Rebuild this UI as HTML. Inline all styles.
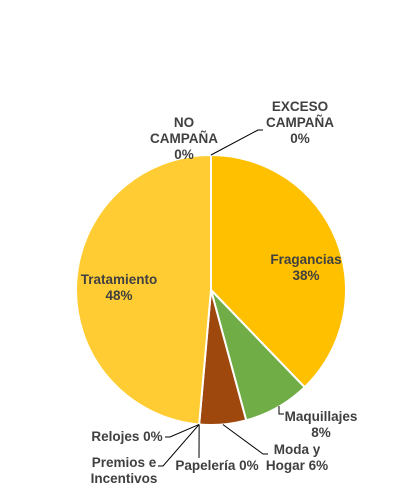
<!DOCTYPE html>
<html><head><meta charset="utf-8"><style>
html,body{margin:0;padding:0;background:#fff;width:410px;height:490px;overflow:hidden}
text{font-family:"Liberation Sans",Arial,sans-serif;font-weight:bold;font-size:13.5px;fill:#404040}
</style></head><body>
<svg id="chart" width="410" height="490" xmlns="http://www.w3.org/2000/svg">
<g id="slices"></g><g id="leaders"></g><g id="labels"></g>
</svg>
<script>
const categories=["Fragancias","Maquillajes","Moda y Hogar","Papelería","Premios e Incentivos","Relojes","Tratamiento","NO CAMPAÑA","EXCESO CAMPAÑA"];
const values=[37.8,8.0,5.6,0,0,0,48.6,0,0];
const printed=["38%","8%","6%","0%","0%","0%","48%","0%","0%"];
const colors=["#FFC000","#70AD47","#9E480E","#636363","#997300","#264478","#FFCD33","#43682B","#F1975A"];
const cx=211,cy=290,r=135;
const total=values.reduce((a,b)=>a+b,0);
const NS="http://www.w3.org/2000/svg";
function pt(frac,rad){const a=frac*2*Math.PI;return [cx+rad*Math.sin(a),cy-rad*Math.cos(a)];}
const gS=document.getElementById('slices');
let cum=0;const mids=[];
values.forEach((v,i)=>{
  const s=cum/total,e=(cum+v)/total;cum+=v;mids.push((s+e)/2);
  if(v<=0)return;
  const [x1,y1]=pt(s,r),[x2,y2]=pt(e,r);
  const p=document.createElementNS(NS,'path');
  p.setAttribute('d',`M${cx},${cy}L${x1},${y1}A${r},${r} 0 ${e-s>0.5?1:0} 1 ${x2},${y2}Z`);
  p.setAttribute('fill',colors[i]);p.setAttribute('stroke','#fff');p.setAttribute('stroke-width','2');
  
  
  gS.appendChild(p);
});
const gL=document.getElementById('labels'),gD=document.getElementById('leaders');
function label(lines,x,y,anchor,name){
  const t=document.createElementNS(NS,'text');
  t.setAttribute('text-anchor',anchor);
  lines.forEach((l,k)=>{const ts=document.createElementNS(NS,'tspan');ts.setAttribute('x',x);ts.setAttribute('y',y+k*16);ts.textContent=l;t.appendChild(ts);});
  
  
  gL.appendChild(t);
}
function leader(pts,name){
  const l=document.createElementNS(NS,'polyline');
  l.setAttribute('points',pts.map(p=>p.join(',')).join(' '));
  l.setAttribute('fill','none');l.setAttribute('stroke','#000');l.setAttribute('stroke-width','1');
  
  
  gD.appendChild(l);
}
label([categories[0],printed[0]],306,264,'middle','label-fragancias');
label([categories[6],printed[6]],119,284,'middle','label-tratamiento');
label([categories[1],printed[1]],321,421,'middle','label-maquillajes');
label(["Moda y","Hogar "+printed[2]],297,454,'middle','label-moda-hogar');
label([categories[3]+" "+printed[3]],217,470,'middle','label-papeleria');
label(["Premios e","Incentivos"],124,467,'middle','label-premios');
label([categories[5]+" "+printed[5]],127,441,'middle','label-relojes');
label(["NO","CAMPAÑA",printed[7]],184,127,'middle','label-no-campana');
label(["EXCESO","CAMPAÑA",printed[8]],300,111,'middle','label-exceso-campana');
const [mx,my]=pt(mids[1],r),[dx,dy]=pt(mids[2],r),[px,py]=pt(mids[3],r);
leader([[279,406],[279,414],[284,414]],'leader-maquillajes');
leader([[dx,dy],[263,454],[268,454]],'leader-moda');
leader([[px,py],[199,458]],'leader-papeleria');
leader([[px,py],[163,466],[158,466]],'leader-premios');
leader([[px,py],[170,437],[165,437]],'leader-relojes');
leader([[211,155],[258,130],[263,130]],'leader-exceso');
</script>
</body></html>
